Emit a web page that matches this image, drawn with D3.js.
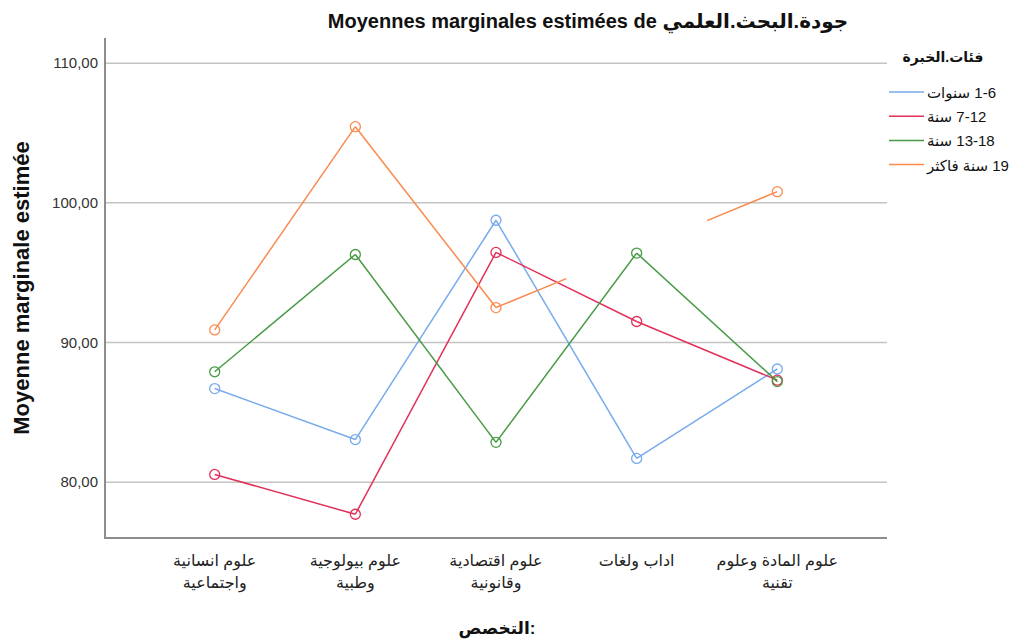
<!DOCTYPE html>
<html>
<head>
<meta charset="utf-8">
<script src="https://cdn.jsdelivr.net/npm/d3@7"></script>
<style>
  body { margin: 0; background: #fff; }
  text { font-family: Arial, "Liberation Sans", "DejaVu Sans", sans-serif; }
</style>
</head>
<body>
<div class="chart"></div>
<script>
const width = 1009,
    height = 641;

const categories = [
    ["علوم انسانية", "واجتماعية"],
    ["علوم بيولوجية", "وطبية"],
    ["علوم اقتصادية", "وقانونية"],
    ["اداب ولغات"],
    ["علوم المادة وعلوم", "تقنية"]
];
const groups = ["1-6 سنوات", "7-12 سنة", "13-18 سنة", "19 سنة فاكثر"];
const colors = ["#78aaec", "#e3305a", "#479a44", "#fb8a4e"];
const blueValues = [86.7, 83.05, 98.75, 81.7, 88.1];
const redValues = [80.55, 77.7, 96.45, 91.5, 87.3];
const greenValues = [87.9, 96.3, 82.85, 96.4, 87.2];
const orangeValues = [90.9, 105.45, 92.5, 96.65, 100.8];
// orange mean for "اداب ولغات" is non-estimable: only half segments drawn towards it
const hidden = [[], [], [], [3]];
const yTicks = [80, 90, 100, 110];

const series = [blueValues, redValues, greenValues, orangeValues];

const svg = d3.select(".chart").append("svg")
    .attr("width", width)
    .attr("height", height);

const x = d3.scalePoint()
    .domain(d3.range(categories.length))
    .range([105, 887])
    .padding(0.78);
const y = d3.scaleLinear()
    .domain([76, 111.8])
    .range([538, 38]);

// gridlines
svg.append("g").selectAll("line")
    .data(yTicks)
    .enter().append("line")
    .attr("x1", 105).attr("x2", 887)
    .attr("y1", d => y(d)).attr("y2", d => y(d))
    .style("stroke", "#c4c4c4")
    .style("stroke-width", 1.5);

// y axis
const yAxis = svg.append("g")
    .attr("transform", "translate(105,0)")
    .call(d3.axisLeft(y).tickValues(yTicks).tickSize(0).tickPadding(7)
        .tickFormat(d => d3.format(".2f")(d).replace(".", ",")));
yAxis.select(".domain").remove();
yAxis.selectAll("text").style("font-size", "15px").style("fill", "#333");

// x axis labels
const xLabels = svg.append("g").selectAll("text")
    .data(categories)
    .enter().append("text")
    .attr("text-anchor", "middle")
    .attr("x", (d, i) => x(i))
    .attr("y", 566)
    .style("font-size", "16px")
    .style("fill", "#222");
xLabels.selectAll("tspan")
    .data(d => d)
    .enter().append("tspan")
    .attr("x", function() { return d3.select(this.parentNode).attr("x"); })
    .attr("dy", (d, i) => i === 0 ? 0 : 22)
    .text(d => d);

// frame axes
svg.append("path")
    .attr("d", `M105,38V538H887`)
    .style("fill", "none")
    .style("stroke", "#8c8c8c")
    .style("stroke-width", 2);

// lines
const lineGroup = svg.append("g");
series.forEach((vals, s) => {
    const skip = hidden[s];
    for (let i = 0; i < vals.length - 1; i++) {
        const a = skip.includes(i), b = skip.includes(i + 1);
        if (a && b) continue;
        let x1 = x(i), y1 = y(vals[i]), x2 = x(i + 1), y2 = y(vals[i + 1]);
        const mx = (x1 + x2) / 2, my = (y1 + y2) / 2;
        if (a) { x1 = mx; y1 = my; }
        if (b) { x2 = mx; y2 = my; }
        lineGroup.append("line")
            .attr("x1", x1).attr("y1", y1)
            .attr("x2", x2).attr("y2", y2)
            .style("stroke", colors[s])
            .style("stroke-width", 1.5);
    }
});

// markers
series.forEach((vals, s) => {
    svg.append("g").selectAll("circle")
        .data(vals.map((v, i) => ({v, i})).filter(d => !hidden[s].includes(d.i)))
        .enter().append("circle")
        .attr("cx", d => x(d.i))
        .attr("cy", d => y(d.v))
        .attr("r", 5)
        .style("fill", "none")
        .style("stroke", colors[s])
        .style("stroke-width", 1.3);
});

// title
svg.append("text")
    .attr("x", 588).attr("y", 28)
    .attr("text-anchor", "middle")
    .style("font-size", "20px")
    .style("font-weight", "bold")
    .style("fill", "#111")
    .text("Moyennes marginales estimées de جودة.البحث.العلمي");

// y title
svg.append("text")
    .attr("transform", "translate(29,288) rotate(-90)")
    .attr("text-anchor", "middle")
    .style("font-size", "22px")
    .style("font-weight", "bold")
    .style("fill", "#111")
    .text("Moyenne marginale estimée");

// x title: word and colon as separate texts so the colon stays on the right
const xTitle = svg.append("g")
    .style("font-size", "17px")
    .style("font-weight", "bold")
    .style("fill", "#111");
const xWord = xTitle.append("text").attr("y", 634).text("التخصص");
const xColon = xTitle.append("text").attr("y", 634).text(":");
const w1 = xWord.node().getComputedTextLength(),
    w2 = xColon.node().getComputedTextLength();
xWord.attr("x", 497 - (w1 + w2) / 2);
xColon.attr("x", 497 - (w1 + w2) / 2 + w1);

// legend
svg.append("text")
    .attr("x", 943).attr("y", 62)
    .attr("text-anchor", "middle")
    .style("font-size", "14px")
    .style("font-weight", "bold")
    .style("fill", "#111")
    .text("فئات.الخبرة");

const legend = svg.append("g").selectAll("g")
    .data(groups)
    .enter().append("g")
    .attr("transform", (d, i) => `translate(889,${92 + i * 24.2})`);
legend.append("line")
    .attr("x1", 0).attr("x2", 35)
    .style("stroke", (d, i) => colors[i])
    .style("stroke-width", 1.5);
legend.append("text")
    .attr("x", 38).attr("y", 6)
    .attr("direction", "rtl")
    .attr("text-anchor", "end")
    .style("font-size", "15px")
    .style("fill", "#111")
    .text(d => d);
</script>
</body>
</html>
